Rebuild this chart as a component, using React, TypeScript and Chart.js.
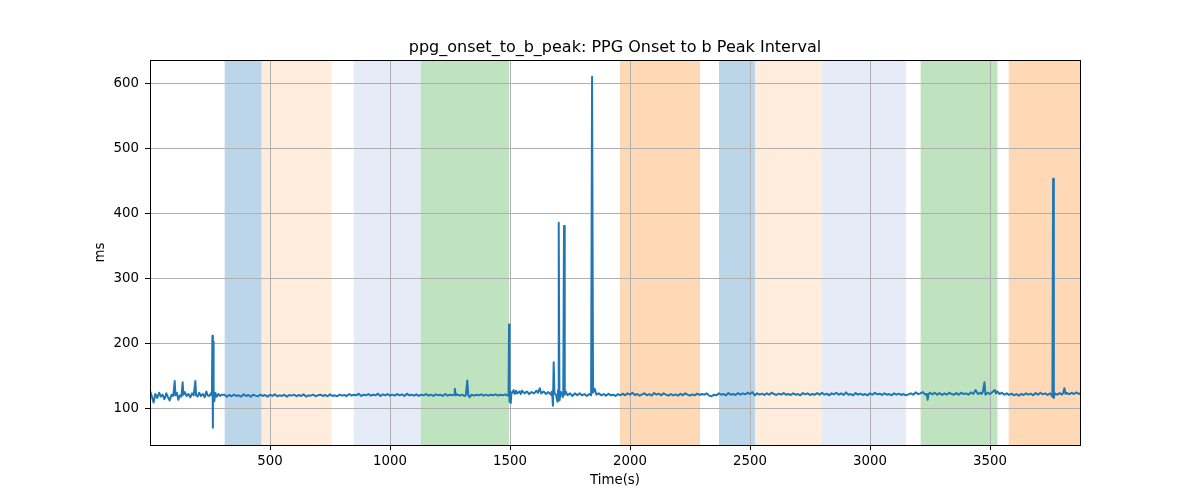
import { useEffect, useRef } from "react";
import { Chart, registerables } from "chart.js";

Chart.register(...registerables);

const chartTitle = "ppg_onset_to_b_peak: PPG Onset to b Peak Interval";
const xAxisLabel = "Time(s)";
const yAxisLabel = "ms";

const xTickValues = [500, 1000, 1500, 2000, 2500, 3000, 3500];
const yTickValues = [100, 200, 300, 400, 500, 600];
const xRange = [0, 3875];
const yRange = [43.4, 637];

const timeSec = [
  0, 8, 15, 22, 30, 38, 45, 52, 60, 68,
  75, 82, 90, 97, 103, 106, 112, 118, 125, 131,
  136, 139, 145, 152, 160, 168, 175, 182, 189, 192,
  198, 205, 212, 220, 228, 235, 240, 247, 254, 258,
  260, 262, 263, 265, 268, 272, 278, 285, 292, 300,
  310, 320, 330, 340, 350, 360, 370, 380, 390, 400,
  410, 420, 430, 440, 450, 460, 470, 480, 490, 500,
  510, 520, 530, 540, 550, 560, 570, 580, 590, 600,
  610, 620, 630, 640, 650, 660, 670, 680, 690, 700,
  710, 720, 730, 740, 750, 760, 770, 780, 790, 800,
  810, 820, 830, 840, 850, 860, 870, 880, 890, 900,
  910, 920, 930, 940, 950, 960, 970, 980, 990, 1000,
  1010, 1020, 1030, 1040, 1050, 1060, 1070, 1080, 1090, 1100,
  1110, 1120, 1130, 1140, 1150, 1160, 1170, 1180, 1190, 1200,
  1210, 1220, 1230, 1240, 1250, 1260, 1267, 1270, 1274, 1280,
  1290, 1300, 1310, 1316, 1322, 1326, 1332, 1340, 1350, 1360,
  1370, 1380, 1390, 1400, 1410, 1420, 1430, 1440, 1450, 1460,
  1470, 1480, 1490, 1494, 1496, 1498, 1500, 1503, 1506,
  1510, 1515, 1520, 1525, 1530, 1540, 1545, 1550, 1560, 1570,
  1580, 1590, 1600, 1610, 1617, 1624, 1630, 1640, 1650, 1660,
  1670, 1675, 1679, 1682, 1685, 1692, 1698, 1700, 1703, 1706,
  1712, 1718, 1720, 1722, 1725, 1728, 1732, 1740, 1750, 1760,
  1770, 1780, 1790, 1800, 1810, 1820, 1830, 1838, 1842, 1846,
  1853, 1860,
  1870, 1880, 1890, 1900, 1910, 1920, 1930, 1940, 1950, 1960,
  1970, 1980, 1990, 2000, 2010, 2020, 2030, 2040, 2050, 2060,
  2070, 2080, 2090, 2100, 2110, 2120, 2130, 2140, 2150, 2160,
  2170, 2180, 2190, 2200, 2210, 2220, 2230, 2240, 2250, 2260,
  2270, 2280, 2290, 2300, 2310, 2320, 2330, 2340, 2350, 2360,
  2370, 2380, 2390, 2400, 2410, 2420, 2430, 2440, 2450, 2460,
  2470, 2480, 2490, 2500, 2510, 2520, 2530, 2540, 2550, 2560,
  2570, 2580, 2590, 2600, 2610, 2620, 2630, 2640, 2650, 2660,
  2670, 2680, 2690, 2700, 2710, 2720, 2730, 2740, 2750, 2760,
  2770, 2780, 2790, 2800, 2810, 2820, 2830, 2840, 2850, 2860,
  2870, 2880, 2890, 2900, 2910, 2920, 2930, 2940, 2950, 2960,
  2970, 2980, 2990, 3000, 3010, 3020, 3030, 3040, 3050, 3060,
  3070, 3080, 3090, 3100, 3110, 3120, 3130, 3140, 3150, 3160,
  3170, 3180, 3190, 3200, 3210, 3220, 3230, 3237, 3240, 3244,
  3250, 3260, 3270, 3280, 3290, 3300, 3310, 3320, 3330, 3340,
  3350, 3360, 3370, 3380, 3390, 3400, 3410, 3420, 3430, 3440,
  3450, 3460, 3465, 3470, 3477, 3481, 3490, 3500, 3510, 3520,
  3525, 3530, 3540, 3550, 3560, 3570, 3580, 3590, 3600, 3610,
  3620, 3630, 3640, 3650, 3660, 3670, 3680, 3690, 3700, 3710,
  3720, 3730, 3740, 3750, 3755, 3760, 3763, 3766, 3770, 3780,
  3790, 3800, 3805, 3810, 3815, 3820, 3830, 3840, 3850, 3860,
  3870, 3875,
];

const intervalMs = [
  127, 118, 109, 122, 116, 124, 118, 121, 114, 123,
  117, 112, 121, 119, 142, 120, 124, 113, 120, 118,
  140, 121, 125, 119, 122, 117, 123, 120, 142, 120,
  118, 124, 119, 122, 117, 126, 120, 119, 123, 120,
  212, 70, 203, 120, 111, 124, 118, 122, 119, 121,
  121, 118, 120.5, 118.5, 121, 119, 120, 118, 121.5, 119,
  120.5, 118, 121, 119.5, 118.5, 121, 119, 120.5, 118, 121,
  119, 121.5, 118.5, 120, 119, 121, 118, 120.5, 119.5, 121,
  118.5, 120.5, 119, 121.5, 118, 120, 119.5, 121, 118.5, 120,
  121, 119, 120.5, 118.5, 121.5, 119, 120, 118.5, 121, 119.5,
  120.5, 119, 122, 119.5, 121, 120, 122.5, 119, 121, 120,
  122, 119.5, 121, 120, 122.5, 119, 121.5, 120, 122, 119.5,
  121, 119.5, 122, 120, 121.5, 119, 122.5, 120, 121, 119.5,
  121.5, 119, 121, 120, 122, 119.5, 121, 119, 121.5, 120,
  121, 119, 122, 119.5, 121, 120, 121, 130, 120, 121.5,
  119.5, 121, 119, 120, 143, 121, 117, 121, 119.5, 121,
  120, 121.5, 119.5, 121, 119.5, 121, 120, 121.5, 119.5, 121,
  120, 121.5, 119.5, 120, 229, 110, 125, 108, 124,
  124, 128, 122, 127, 123, 126, 122, 127, 123, 126,
  122, 125, 123, 127, 124, 131, 123, 126, 122, 125,
  121, 126, 104, 171, 124, 120, 110, 128, 386, 112,
  125, 121, 117, 124, 381, 121, 126, 120, 123, 119,
  123, 120, 123, 120, 122, 119, 122, 120, 611, 124,
  130, 121,
  123, 120, 122, 119.5, 122.5, 120, 121, 119, 122, 120,
  122.5, 120, 123, 121, 124, 120.5, 122, 119.5, 121.5, 123,
  120, 122, 119.5, 123.5, 121, 122.5, 120, 123, 121, 119.5,
  122, 120, 121.5, 119.5, 122.5, 120, 123, 121, 119.5, 121.5,
  120, 122.5, 120.5, 122, 121, 123, 119.5, 118.5, 121, 120,
  123, 121, 122, 120, 123.5, 121, 122, 120.5, 123.5, 121,
  123, 121.5, 124, 122, 125, 120, 123, 121, 122.5, 120.5,
  123, 121, 124, 122, 120.5, 122.5, 121, 123.5, 121, 122,
  120.5, 123, 121, 122, 120, 123.5, 121.5, 123, 120.5, 122,
  121, 123.5, 121, 124, 121, 122.5, 120, 123, 121.5, 124,
  121, 123, 120.5, 124.5, 121, 122, 120, 123.5, 121, 122.5,
  120.5, 122, 120, 123, 121, 124, 121.5, 122.5, 120.5, 123,
  121, 122, 120, 123, 121, 122.5, 120.5, 122, 120, 121.5,
  123, 121, 124.5, 122, 123, 125, 121, 122, 113, 122,
  124, 121.5, 124, 121, 123.5, 120.5, 123, 121, 124, 122,
  121, 123.5, 121, 124, 122, 123, 121, 124.5, 122, 128,
  122, 124, 122, 125, 140, 121, 124, 122, 125, 128,
  123, 126, 122, 124, 121, 123, 120.5, 122.5, 120, 122,
  119.5, 122, 120.5, 123, 121, 122.5, 120, 123.5, 121, 124,
  121.5, 123, 120.5, 123, 121, 118, 454, 116, 123, 121,
  123.5, 121, 124, 131, 122, 124, 121.5, 124, 122, 124.5,
  122, 123,
];

const bandStart = [311, 464, 849, 1129, 1958, 2371, 2521, 2800, 3211, 3578];
const bandEnd = [464, 756, 1129, 1496, 2292, 2521, 2800, 3150, 3531, 3875];
const bandKind = ["blue", "peach", "lavender", "green", "orange", "blue", "peach", "lavender", "green", "orange"];

const FONT = "'DejaVu Sans', 'Liberation Sans', sans-serif";

export default function App() {
  const canvasRef = useRef<HTMLCanvasElement | null>(null);

  useEffect(() => {
    const canvas = canvasRef.current;
    if (!canvas) return;

    const bandFill: Record<string, string> = {
      blue: "rgba(31,119,180,0.3)",
      peach: "rgba(255,127,14,0.15)",
      lavender: "rgba(110,150,215,0.18)",
      green: "rgba(44,160,44,0.3)",
      orange: "rgba(255,127,14,0.3)",
    };

    const decor = {
      id: "decor",
      beforeDraw(chart: any) {
        const { ctx, chartArea, scales } = chart;
        const xs = scales.x;
        ctx.save();
        ctx.beginPath();
        ctx.rect(chartArea.left, chartArea.top, chartArea.right - chartArea.left, chartArea.bottom - chartArea.top);
        ctx.clip();
        for (let i = 0; i < bandStart.length; i++) {
          const x0 = xs.getPixelForValue(bandStart[i]);
          const x1 = xs.getPixelForValue(bandEnd[i]);
          ctx.fillStyle = bandFill[bandKind[i]];
          ctx.fillRect(x0, chartArea.top, x1 - x0, chartArea.bottom - chartArea.top);
        }
        ctx.restore();
      },
      afterDraw(chart: any) {
        const { ctx, chartArea } = chart;
        ctx.save();
        ctx.strokeStyle = "#000";
        ctx.lineWidth = 1;
        ctx.strokeRect(
          Math.round(chartArea.left) + 0.5,
          Math.round(chartArea.top) + 0.5,
          Math.round(chartArea.right - chartArea.left),
          Math.round(chartArea.bottom - chartArea.top)
        );
        ctx.fillStyle = "#000";
        ctx.font = `16px ${FONT}`;
        ctx.textAlign = "center";
        ctx.textBaseline = "alphabetic";
        const cx = (chartArea.left + chartArea.right) / 2;
        ctx.fillText(chartTitle, cx, 51.5);
        ctx.font = `13.33px ${FONT}`;
        ctx.textBaseline = "top";
        ctx.fillText(xAxisLabel, cx, 474);
        ctx.translate(101, (chartArea.top + chartArea.bottom) / 2);
        ctx.rotate(-Math.PI / 2);
        ctx.textBaseline = "middle";
        ctx.fillText(yAxisLabel, 0, 0);
        ctx.restore();
      },
    };

    const n = Math.min(timeSec.length, intervalMs.length);
    const points = timeSec.slice(0, n).map((t, i) => ({ x: t, y: intervalMs[i] }));

    const chart = new Chart(canvas, {
      type: "line",
      data: {
        datasets: [
          {
            data: points,
            borderColor: "#1f77b4",
            backgroundColor: "#1f77b4",
            borderWidth: 2,
            pointRadius: 0,
            tension: 0,
            fill: false,
            borderJoinStyle: "round",
            borderCapStyle: "square",
          },
        ],
      },
      options: {
        animation: false,
        responsive: false,
        devicePixelRatio: 1,
        layout: { padding: { left: 0, top: 60, right: 120, bottom: 0 } },
        plugins: {
          legend: { display: false },
          title: { display: false },
          tooltip: { enabled: false },
        },
        scales: {
          x: {
            type: "linear",
            position: "bottom",
            min: xRange[0],
            max: xRange[1],
            afterFit: (s: any) => {
              s.height = 55;
            },
            afterBuildTicks: (s: any) => {
              s.ticks = xTickValues.map((v) => ({ value: v }));
            },
            ticks: {
              color: "#000",
              font: { family: FONT, size: 13.33 },
              padding: 4,
              maxRotation: 0,
              autoSkip: false,
              callback: (v: any) => String(v),
            },
            grid: {
              color: "#b0b0b0",
              lineWidth: 1,
              tickLength: 5,
              tickColor: "#000",
            },
            border: { display: false },
          },
          y: {
            type: "linear",
            min: yRange[0],
            max: yRange[1],
            afterFit: (s: any) => {
              s.width = 150;
            },
            afterBuildTicks: (s: any) => {
              s.ticks = yTickValues.map((v) => ({ value: v }));
            },
            ticks: {
              color: "#000",
              font: { family: FONT, size: 13.33 },
              padding: 6,
              autoSkip: false,
              callback: (v: any) => String(v),
            },
            grid: {
              color: "#b0b0b0",
              lineWidth: 1,
              tickLength: 5,
              tickColor: "#000",
            },
            border: { display: false },
          },
        },
      },
      plugins: [decor],
    } as any);

    return () => chart.destroy();
  }, []);

  return (
    <div style={{ position: "fixed", left: 0, top: 0, width: 1200, height: 500, background: "#fff" }}>
      <canvas ref={canvasRef} width={1200} height={500} style={{ display: "block", width: 1200, height: 500 }} />
    </div>
  );
}
